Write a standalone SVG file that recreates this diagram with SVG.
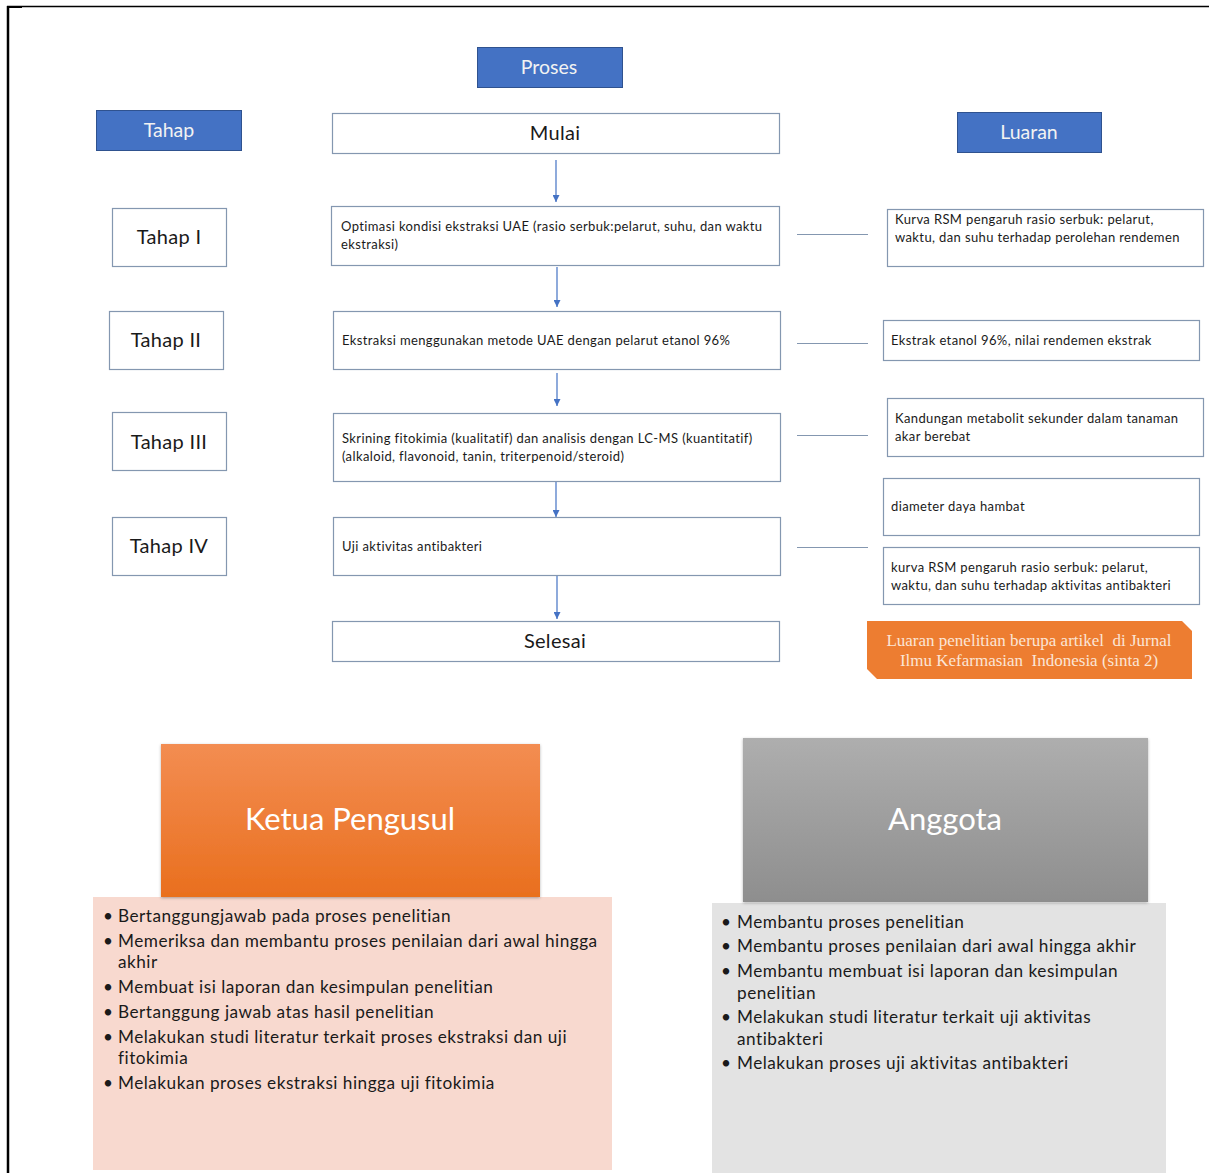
<svg xmlns="http://www.w3.org/2000/svg" width="1209" height="1173" viewBox="0 0 1209 1173">
<defs>
<style>
.hdr{fill:#4472C4;stroke:#2F528F;stroke-width:1}
.hdrt{font-family:Lato,"Open Sans",sans-serif;font-size:19.5px;fill:#F2F2F2;text-anchor:middle}
.box{fill:#FFFFFF;stroke:#8497B0;stroke-width:1.2}
.big{font-family:Lato,"Open Sans",sans-serif;font-size:20px;letter-spacing:0.3px;fill:#1a1a1a;text-anchor:middle}
.sm{font-family:Lato,"Open Sans",sans-serif;font-size:13px;letter-spacing:0.38px;fill:#1a1a1a}
.conn{stroke:#4472C4;stroke-width:1.2;fill:none}
.lin{stroke:#8497B0;stroke-width:1.2;fill:none}
.bul{font-family:Lato,"Open Sans",sans-serif;font-size:17.2px;letter-spacing:0.5px;fill:#1a1a1a}
.title{font-family:Lato,"Open Sans",sans-serif;font-size:31px;fill:#FFFFFF;text-anchor:middle}
.ser{font-family:"Liberation Serif",serif;font-size:17px;fill:#FBE5D6;text-anchor:middle}
</style>
<marker id="ah" viewBox="0 0 10 10" refX="10" refY="5" markerWidth="7" markerHeight="7" orient="auto" markerUnits="userSpaceOnUse">
<path d="M0,0 L10,5 L0,10 z" fill="#4472C4"/>
</marker>
<linearGradient id="gO" x1="0" y1="0" x2="0" y2="1">
<stop offset="0" stop-color="#F38D52"/>
<stop offset="1" stop-color="#E96F1E"/>
</linearGradient>
<linearGradient id="gG" x1="0" y1="0" x2="0" y2="1">
<stop offset="0" stop-color="#AEAEAE"/>
<stop offset="1" stop-color="#8E8E8E"/>
</linearGradient>
<filter id="sh" x="-5%" y="-5%" width="110%" height="115%">
<feDropShadow dx="0" dy="1" stdDeviation="1.5" flood-color="#000" flood-opacity="0.3"/>
</filter>
</defs>
<rect width="1209" height="1173" fill="#FFFFFF"/>
<g id="frame">
<line x1="7" y1="6.5" x2="1209" y2="6.5" stroke="#000" stroke-width="1.5"/>
<line x1="8" y1="6" x2="8" y2="1173" stroke="#000" stroke-width="2.5"/>
<line x1="7" y1="7" x2="22" y2="7" stroke="#000" stroke-width="2"/>
</g>
<g id="connectors">
<line class="conn" x1="556" y1="160" x2="556" y2="202" marker-end="url(#ah)"/>
<line class="conn" x1="557" y1="267" x2="557" y2="307" marker-end="url(#ah)"/>
<line class="conn" x1="557" y1="373" x2="557" y2="406" marker-end="url(#ah)"/>
<line class="conn" x1="556" y1="478" x2="556" y2="517" marker-end="url(#ah)"/>
<line class="conn" x1="557" y1="576" x2="557" y2="619" marker-end="url(#ah)"/>
<line class="lin" x1="797" y1="234.5" x2="868" y2="234.5"/>
<line class="lin" x1="797" y1="343.5" x2="868" y2="343.5"/>
<line class="lin" x1="797" y1="435.5" x2="868" y2="435.5"/>
<line class="lin" x1="797" y1="547.5" x2="868" y2="547.5"/>
</g>
<g id="hdr-proses"><rect class="hdr" x="477.5" y="47.5" width="145" height="40"/><text class="hdrt" x="549" y="74">Proses</text></g>
<g id="hdr-tahap"><rect class="hdr" x="96.5" y="110.5" width="145" height="40"/><text class="hdrt" x="169" y="137">Tahap</text></g>
<g id="hdr-luaran"><rect class="hdr" x="957.5" y="112.5" width="144" height="40"/><text class="hdrt" x="1029" y="139">Luaran</text></g>
<g id="mulai"><rect class="box" x="332.5" y="113.5" width="447" height="40"/><text class="big" x="555" y="140">Mulai</text></g>
<g id="p1"><rect class="box" x="331.5" y="206.5" width="448" height="59"/><text class="sm" x="341" y="231">Optimasi kondisi ekstraksi UAE (rasio serbuk:pelarut, suhu, dan waktu</text><text class="sm" x="341" y="249">ekstraksi)</text></g>
<g id="p2"><rect class="box" x="333.5" y="311.5" width="447" height="58"/><text class="sm" x="342" y="345">Ekstraksi menggunakan metode UAE dengan pelarut etanol 96%</text></g>
<g id="p3"><rect class="box" x="333.5" y="413.5" width="447" height="68"/><text class="sm" x="342" y="443">Skrining fitokimia (kualitatif) dan analisis dengan LC-MS (kuantitatif)</text><text class="sm" x="342" y="461">(alkaloid, flavonoid, tanin, triterpenoid/steroid)</text></g>
<g id="p4"><rect class="box" x="333.5" y="517.5" width="447" height="58"/><text class="sm" x="342" y="551">Uji aktivitas antibakteri</text></g>
<g id="selesai"><rect class="box" x="332.5" y="621.5" width="447" height="40"/><text class="big" x="555" y="648">Selesai</text></g>
<g id="t1"><rect class="box" x="112.5" y="208.5" width="114" height="58"/><text class="big" x="169" y="244">Tahap I</text></g>
<g id="t2"><rect class="box" x="109.5" y="311.5" width="114" height="58"/><text class="big" x="166" y="347">Tahap II</text></g>
<g id="t3"><rect class="box" x="112.5" y="412.5" width="114" height="58"/><text class="big" x="169" y="449">Tahap III</text></g>
<g id="t4"><rect class="box" x="112.5" y="517.5" width="114" height="58"/><text class="big" x="169" y="553">Tahap IV</text></g>
<g id="r1"><rect class="box" x="887.5" y="209.5" width="316" height="57"/><text class="sm" x="895" y="224">Kurva RSM pengaruh rasio serbuk: pelarut,</text><text class="sm" x="895" y="242">waktu, dan suhu terhadap perolehan rendemen</text></g>
<g id="r2"><rect class="box" x="883.5" y="320.5" width="316" height="40"/><text class="sm" x="891" y="345">Ekstrak etanol 96%, nilai rendemen ekstrak</text></g>
<g id="r3"><rect class="box" x="887.5" y="398.5" width="316" height="58"/><text class="sm" x="895" y="423">Kandungan metabolit sekunder dalam tanaman</text><text class="sm" x="895" y="441">akar berebat</text></g>
<g id="r4"><rect class="box" x="883.5" y="478.5" width="316" height="57"/><text class="sm" x="891" y="511">diameter daya hambat</text></g>
<g id="r5"><rect class="box" x="883.5" y="547.5" width="316" height="57"/><text class="sm" x="891" y="572">kurva RSM pengaruh rasio serbuk: pelarut,</text><text class="sm" x="891" y="590">waktu, dan suhu terhadap aktivitas antibakteri</text></g>
<g id="luaran-artikel">
<path d="M867,621 L1182,621 L1192,631 L1192,679 L877,679 L867,669 Z" fill="#ED7D31"/>
<text class="ser" x="1029" y="646" xml:space="preserve">Luaran penelitian berupa artikel  di Jurnal</text>
<text class="ser" x="1029" y="666" xml:space="preserve">Ilmu Kefarmasian  Indonesia (sinta 2)</text>
</g>
<g id="ketua">
<rect x="93" y="897" width="519" height="273" fill="#F8D9CF"/>
<rect x="161" y="744" width="379" height="153" fill="url(#gO)" filter="url(#sh)"/>
<text class="title" x="350" y="830">Ketua Pengusul</text>
<g class="bul">
<text x="103" y="922">•</text><text x="118" y="922">Bertanggungjawab  pada proses penelitian</text>
<text x="103" y="947">•</text><text x="118" y="947">Memeriksa dan membantu proses penilaian dari awal hingga</text>
<text x="118" y="968">akhir</text>
<text x="103" y="993">•</text><text x="118" y="993">Membuat isi laporan dan kesimpulan penelitian</text>
<text x="103" y="1018">•</text><text x="118" y="1018">Bertanggung  jawab atas hasil penelitian</text>
<text x="103" y="1043">•</text><text x="118" y="1043">Melakukan studi literatur terkait proses ekstraksi dan uji</text>
<text x="118" y="1064">fitokimia</text>
<text x="103" y="1089">•</text><text x="118" y="1089">Melakukan proses  ekstraksi hingga uji fitokimia</text>
</g>
</g>
<g id="anggota">
<rect x="712" y="903" width="454" height="270" fill="#E3E3E3"/>
<rect x="743" y="738" width="405" height="164" fill="url(#gG)" filter="url(#sh)"/>
<text class="title" x="945" y="830">Anggota</text>
<g class="bul">
<text x="721" y="928">•</text><text x="737" y="928">Membantu proses  penelitian</text>
<text x="721" y="952">•</text><text x="737" y="952">Membantu proses  penilaian dari awal hingga akhir</text>
<text x="721" y="977">•</text><text x="737" y="977">Membantu  membuat  isi laporan dan kesimpulan</text>
<text x="737" y="999">penelitian</text>
<text x="721" y="1023">•</text><text x="737" y="1023">Melakukan studi literatur terkait uji aktivitas</text>
<text x="737" y="1045">antibakteri</text>
<text x="721" y="1069">•</text><text x="737" y="1069">Melakukan proses  uji aktivitas antibakteri</text>
</g>
</g>
</svg>
